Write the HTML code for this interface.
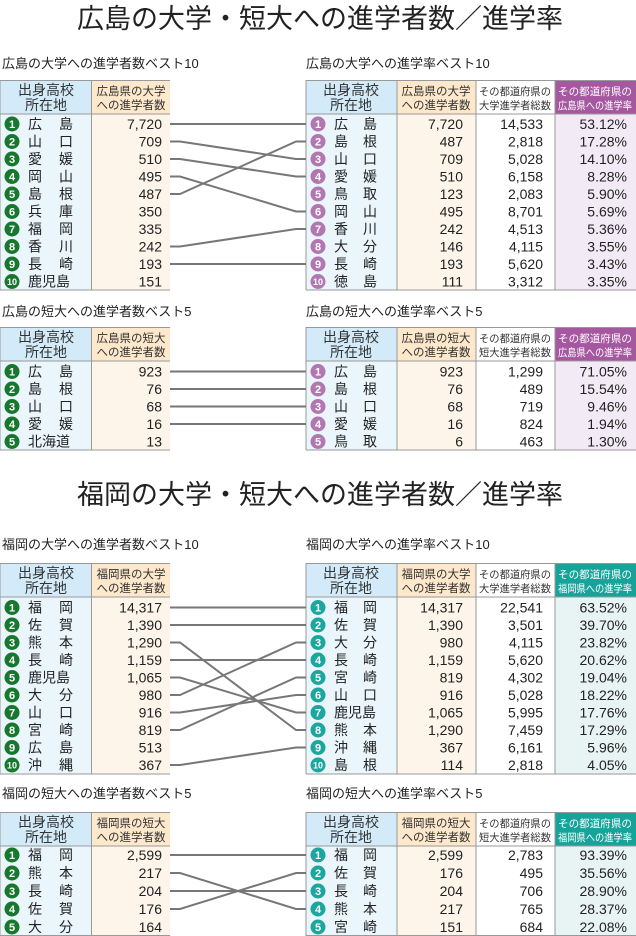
<!DOCTYPE html>
<html><head><meta charset="utf-8"><style>
html,body{margin:0;padding:0;background:#fff;}
svg{display:block;font-family:"Liberation Sans","Noto Sans CJK JP",sans-serif;}
.n{font-size:14px;fill:#222;}
.r{text-anchor:end;}
.h{font-size:11.5px;fill:#333;text-anchor:middle;}
.h1{font-size:14px;fill:#333;text-anchor:middle;}
.h3{font-size:10.5px;fill:#333;text-anchor:middle;}
.w{font-size:10.5px;fill:#fff;text-anchor:middle;}
.st{font-size:13px;fill:#222;}
.t{font-size:27px;fill:#222;text-anchor:middle;}
.c{font-size:11px;fill:#fff;font-weight:bold;text-anchor:middle;}
.ln{stroke:#777;stroke-width:2;fill:none;}
.g{fill:#17772d;} .p{fill:#b276b0;} .tl{fill:#1ba69e;}
</style></head><body>
<svg width="636" height="936" viewBox="0 0 636 936">
<text class="t" x="320" y="28">広島の大学・短大への進学者数／進学率</text>
<text class="t" x="320" y="504">福岡の大学・短大への進学者数／進学率</text>

<text class="st" x="2" y="68">広島の大学への進学者数ベスト10</text>
<text class="st" x="306" y="68">広島の大学への進学率ベスト10</text>
<text class="st" x="2" y="316">広島の短大への進学者数ベスト5</text>
<text class="st" x="306" y="316">広島の短大への進学率ベスト5</text>
<text class="st" x="2" y="549">福岡の大学への進学者数ベスト10</text>
<text class="st" x="306" y="549">福岡の大学への進学率ベスト10</text>
<text class="st" x="2" y="798">福岡の短大への進学者数ベスト5</text>
<text class="st" x="306" y="798">福岡の短大への進学率ベスト5</text>

<g>
<rect x="0" y="80" width="91" height="210" fill="#eaf5fc"/><rect x="0" y="80" width="91" height="34" fill="#d3ebf8"/>
<rect x="92" y="80" width="78" height="210" fill="#fdf5ea"/><rect x="92" y="80" width="78" height="34" fill="#fde8cc"/>
<rect x="306" y="80" width="91" height="210" fill="#eaf5fc"/><rect x="306" y="80" width="91" height="34" fill="#d3ebf8"/>
<rect x="397" y="80" width="79" height="210" fill="#fdf5ea"/><rect x="397" y="80" width="79" height="34" fill="#fde8cc"/>
<rect x="555" y="80" width="81" height="210" fill="#f2ebf5"/><rect x="555" y="80" width="81" height="34" fill="#a5579f"/>
<rect x="0" y="327" width="91" height="123" fill="#eaf5fc"/><rect x="0" y="327" width="91" height="34" fill="#d3ebf8"/>
<rect x="92" y="327" width="78" height="123" fill="#fdf5ea"/><rect x="92" y="327" width="78" height="34" fill="#fde8cc"/>
<rect x="306" y="327" width="91" height="123" fill="#eaf5fc"/><rect x="306" y="327" width="91" height="34" fill="#d3ebf8"/>
<rect x="397" y="327" width="79" height="123" fill="#fdf5ea"/><rect x="397" y="327" width="79" height="34" fill="#fde8cc"/>
<rect x="555" y="327" width="81" height="123" fill="#f2ebf5"/><rect x="555" y="327" width="81" height="34" fill="#a5579f"/>
<rect x="0" y="563" width="91" height="211" fill="#eaf5fc"/><rect x="0" y="563" width="91" height="34" fill="#d3ebf8"/>
<rect x="92" y="563" width="78" height="211" fill="#fdf5ea"/><rect x="92" y="563" width="78" height="34" fill="#fde8cc"/>
<rect x="306" y="563" width="91" height="211" fill="#eaf5fc"/><rect x="306" y="563" width="91" height="34" fill="#d3ebf8"/>
<rect x="397" y="563" width="79" height="211" fill="#fdf5ea"/><rect x="397" y="563" width="79" height="34" fill="#fde8cc"/>
<rect x="555" y="563" width="81" height="211" fill="#e8f3f3"/><rect x="555" y="563" width="81" height="34" fill="#16a39a"/>
<rect x="0" y="812" width="91" height="124" fill="#eaf5fc"/><rect x="0" y="812" width="91" height="34" fill="#d3ebf8"/>
<rect x="92" y="812" width="78" height="124" fill="#fdf5ea"/><rect x="92" y="812" width="78" height="34" fill="#fde8cc"/>
<rect x="306" y="812" width="91" height="124" fill="#eaf5fc"/><rect x="306" y="812" width="91" height="34" fill="#d3ebf8"/>
<rect x="397" y="812" width="79" height="124" fill="#fdf5ea"/><rect x="397" y="812" width="79" height="34" fill="#fde8cc"/>
<rect x="555" y="812" width="81" height="124" fill="#e8f3f3"/><rect x="555" y="812" width="81" height="34" fill="#16a39a"/>
</g>
<g stroke="#999" stroke-width="1">
<path d="M0 80.5H170M0 114H170M0 290H170M91.5 80V290M0 80V290" />
<path d="M306 80.5H636M306 114H636M306 290H636M397 80V290M476 80V290M555 80V290M306 80V290"/>
<path d="M0 327.5H170M0 361H170M0 450H170M91.5 327V450M0 327V450"/>
<path d="M306 327.5H636M306 361H636M306 450H636M397 327V450M476 327V450M555 327V450M306 327V450"/>
<path d="M0 563.5H170M0 597H170M0 774H170M91.5 563V774M0 563V774"/>
<path d="M306 563.5H636M306 597H636M306 774H636M397 563V774M476 563V774M555 563V774M306 563V774"/>
<path d="M0 812.5H170M0 846H170M0 935.5H170M91.5 812V936M0 812V936"/>
<path d="M306 812.5H636M306 846H636M306 935.5H636M397 812V936M476 812V936M555 812V936M306 812V936"/>
</g>

<g>
<text class="h1" x="46" y="95">出身高校</text><text class="h1" x="46" y="110">所在地</text>
<text class="h" x="131" y="95">広島県の大学</text><text class="h" x="131" y="109">への進学者数</text>
<text class="h1" x="351" y="95">出身高校</text><text class="h1" x="351" y="110">所在地</text>
<text class="h" x="436" y="95">広島県の大学</text><text class="h" x="436" y="109">への進学者数</text>
<text class="h3" x="515" y="95" textLength="72" lengthAdjust="spacingAndGlyphs">その都道府県の</text><text class="h3" x="515" y="109" textLength="72" lengthAdjust="spacingAndGlyphs">大学進学者総数</text>
<text class="w" x="595" y="95" textLength="74" lengthAdjust="spacingAndGlyphs">その都道府県の</text><text class="w" x="595" y="109" textLength="74" lengthAdjust="spacingAndGlyphs">広島県への進学率</text>

<text class="h1" x="46" y="342">出身高校</text><text class="h1" x="46" y="357">所在地</text>
<text class="h" x="131" y="342">広島県の短大</text><text class="h" x="131" y="356">への進学者数</text>
<text class="h1" x="351" y="342">出身高校</text><text class="h1" x="351" y="357">所在地</text>
<text class="h" x="436" y="342">広島県の短大</text><text class="h" x="436" y="356">への進学者数</text>
<text class="h3" x="515" y="342" textLength="72" lengthAdjust="spacingAndGlyphs">その都道府県の</text><text class="h3" x="515" y="356" textLength="72" lengthAdjust="spacingAndGlyphs">短大進学者総数</text>
<text class="w" x="595" y="342" textLength="74" lengthAdjust="spacingAndGlyphs">その都道府県の</text><text class="w" x="595" y="356" textLength="74" lengthAdjust="spacingAndGlyphs">広島県への進学率</text>

<text class="h1" x="46" y="578">出身高校</text><text class="h1" x="46" y="593">所在地</text>
<text class="h" x="131" y="578">福岡県の大学</text><text class="h" x="131" y="592">への進学者数</text>
<text class="h1" x="351" y="578">出身高校</text><text class="h1" x="351" y="593">所在地</text>
<text class="h" x="436" y="578">福岡県の大学</text><text class="h" x="436" y="592">への進学者数</text>
<text class="h3" x="515" y="578" textLength="72" lengthAdjust="spacingAndGlyphs">その都道府県の</text><text class="h3" x="515" y="592" textLength="72" lengthAdjust="spacingAndGlyphs">大学進学者総数</text>
<text class="w" x="595" y="578" textLength="74" lengthAdjust="spacingAndGlyphs">その都道府県の</text><text class="w" x="595" y="592" textLength="74" lengthAdjust="spacingAndGlyphs">福岡県への進学率</text>

<text class="h1" x="46" y="827">出身高校</text><text class="h1" x="46" y="842">所在地</text>
<text class="h" x="131" y="827">福岡県の短大</text><text class="h" x="131" y="841">への進学者数</text>
<text class="h1" x="351" y="827">出身高校</text><text class="h1" x="351" y="842">所在地</text>
<text class="h" x="436" y="827">福岡県の短大</text><text class="h" x="436" y="841">への進学者数</text>
<text class="h3" x="515" y="827" textLength="72" lengthAdjust="spacingAndGlyphs">その都道府県の</text><text class="h3" x="515" y="841" textLength="72" lengthAdjust="spacingAndGlyphs">短大進学者総数</text>
<text class="w" x="595" y="827" textLength="74" lengthAdjust="spacingAndGlyphs">その都道府県の</text><text class="w" x="595" y="841" textLength="74" lengthAdjust="spacingAndGlyphs">福岡県への進学率</text>
</g>

<g class="ln">
<path d="M170 124H180L296 124H306"/>
<path d="M170 141.5H180L296 159H306"/>
<path d="M170 159H180L296 176.5H306"/>
<path d="M170 176.5H180L296 211.5H306"/>
<path d="M170 194H180L296 141.5H306"/>
<path d="M170 246.5H180L296 229H306"/>
<path d="M170 264H180L296 264H306"/>
<path d="M170 371.5H306"/><path d="M170 389H306"/><path d="M170 406.5H306"/><path d="M170 424H306"/>
<path d="M170 607.5H306"/>
<path d="M170 625H306"/>
<path d="M170 642.5H180L296 730H306"/>
<path d="M170 660H306"/>
<path d="M170 677.5H180L296 712.5H306"/>
<path d="M170 695H180L296 642.5H306"/>
<path d="M170 712.5H180L296 695H306"/>
<path d="M170 730H180L296 677.5H306"/>
<path d="M170 765H180L296 747.5H306"/>
<path d="M170 855H306"/>
<path d="M170 873H180L296 909H306"/>
<path d="M170 891H306"/>
<path d="M170 909H180L296 873H306"/>
</g>

<g class="n">
<g class="g"><circle cx="12" cy="124" r="7.5"/><circle cx="12" cy="141.5" r="7.5"/><circle cx="12" cy="159" r="7.5"/><circle cx="12" cy="176.5" r="7.5"/><circle cx="12" cy="194" r="7.5"/><circle cx="12" cy="211.5" r="7.5"/><circle cx="12" cy="229" r="7.5"/><circle cx="12" cy="246.5" r="7.5"/><circle cx="12" cy="264" r="7.5"/><circle cx="12" cy="281.5" r="7.5"/></g>
<text class="c" x="12" y="128">1</text><text class="c" x="12" y="145.5">2</text><text class="c" x="12" y="163">3</text><text class="c" x="12" y="180.5">4</text><text class="c" x="12" y="198">5</text><text class="c" x="12" y="215.5">6</text><text class="c" x="12" y="233">7</text><text class="c" x="12" y="250.5">8</text><text class="c" x="12" y="268">9</text><text class="c" x="12" y="285" style="font-size:9px">10</text>
<text x="28" y="129">広</text><text x="59" y="129">島</text><text class="r" x="162" y="129">7,720</text>
<text x="28" y="146.5">山</text><text x="59" y="146.5">口</text><text class="r" x="162" y="146.5">709</text>
<text x="28" y="164">愛</text><text x="59" y="164">媛</text><text class="r" x="162" y="164">510</text>
<text x="28" y="181.5">岡</text><text x="59" y="181.5">山</text><text class="r" x="162" y="181.5">495</text>
<text x="28" y="199">島</text><text x="59" y="199">根</text><text class="r" x="162" y="199">487</text>
<text x="28" y="216.5">兵</text><text x="59" y="216.5">庫</text><text class="r" x="162" y="216.5">350</text>
<text x="28" y="234">福</text><text x="59" y="234">岡</text><text class="r" x="162" y="234">335</text>
<text x="28" y="251.5">香</text><text x="59" y="251.5">川</text><text class="r" x="162" y="251.5">242</text>
<text x="28" y="269">長</text><text x="59" y="269">崎</text><text class="r" x="162" y="269">193</text>
<text x="28" y="286.5">鹿児島</text><text class="r" x="162" y="286.5">151</text>
</g>
<g class="n">
<g class="p"><circle cx="318" cy="124" r="7.5"/><circle cx="318" cy="141.5" r="7.5"/><circle cx="318" cy="159" r="7.5"/><circle cx="318" cy="176.5" r="7.5"/><circle cx="318" cy="194" r="7.5"/><circle cx="318" cy="211.5" r="7.5"/><circle cx="318" cy="229" r="7.5"/><circle cx="318" cy="246.5" r="7.5"/><circle cx="318" cy="264" r="7.5"/><circle cx="318" cy="281.5" r="7.5"/></g>
<text class="c" x="318" y="128">1</text><text class="c" x="318" y="145.5">2</text><text class="c" x="318" y="163">3</text><text class="c" x="318" y="180.5">4</text><text class="c" x="318" y="198">5</text><text class="c" x="318" y="215.5">6</text><text class="c" x="318" y="233">7</text><text class="c" x="318" y="250.5">8</text><text class="c" x="318" y="268">9</text><text class="c" x="318" y="285" style="font-size:9px">10</text>
<text x="334" y="129">広</text><text x="363" y="129">島</text><text class="r" x="463" y="129">7,720</text><text class="r" x="543" y="129">14,533</text><text class="r" x="627" y="129">53.12%</text>
<text x="334" y="146.5">島</text><text x="363" y="146.5">根</text><text class="r" x="463" y="146.5">487</text><text class="r" x="543" y="146.5">2,818</text><text class="r" x="627" y="146.5">17.28%</text>
<text x="334" y="164">山</text><text x="363" y="164">口</text><text class="r" x="463" y="164">709</text><text class="r" x="543" y="164">5,028</text><text class="r" x="627" y="164">14.10%</text>
<text x="334" y="181.5">愛</text><text x="363" y="181.5">媛</text><text class="r" x="463" y="181.5">510</text><text class="r" x="543" y="181.5">6,158</text><text class="r" x="627" y="181.5">8.28%</text>
<text x="334" y="199">鳥</text><text x="363" y="199">取</text><text class="r" x="463" y="199">123</text><text class="r" x="543" y="199">2,083</text><text class="r" x="627" y="199">5.90%</text>
<text x="334" y="216.5">岡</text><text x="363" y="216.5">山</text><text class="r" x="463" y="216.5">495</text><text class="r" x="543" y="216.5">8,701</text><text class="r" x="627" y="216.5">5.69%</text>
<text x="334" y="234">香</text><text x="363" y="234">川</text><text class="r" x="463" y="234">242</text><text class="r" x="543" y="234">4,513</text><text class="r" x="627" y="234">5.36%</text>
<text x="334" y="251.5">大</text><text x="363" y="251.5">分</text><text class="r" x="463" y="251.5">146</text><text class="r" x="543" y="251.5">4,115</text><text class="r" x="627" y="251.5">3.55%</text>
<text x="334" y="269">長</text><text x="363" y="269">崎</text><text class="r" x="463" y="269">193</text><text class="r" x="543" y="269">5,620</text><text class="r" x="627" y="269">3.43%</text>
<text x="334" y="286.5">徳</text><text x="363" y="286.5">島</text><text class="r" x="463" y="286.5">111</text><text class="r" x="543" y="286.5">3,312</text><text class="r" x="627" y="286.5">3.35%</text>
</g>

<g class="n">
<g class="g"><circle cx="12" cy="371.5" r="7.5"/><circle cx="12" cy="389" r="7.5"/><circle cx="12" cy="406.5" r="7.5"/><circle cx="12" cy="424" r="7.5"/><circle cx="12" cy="441.5" r="7.5"/></g>
<text class="c" x="12" y="375.5">1</text><text class="c" x="12" y="393">2</text><text class="c" x="12" y="410.5">3</text><text class="c" x="12" y="428">4</text><text class="c" x="12" y="445.5">5</text>
<text x="28" y="376.5">広</text><text x="59" y="376.5">島</text><text class="r" x="162" y="376.5">923</text>
<text x="28" y="394">島</text><text x="59" y="394">根</text><text class="r" x="162" y="394">76</text>
<text x="28" y="411.5">山</text><text x="59" y="411.5">口</text><text class="r" x="162" y="411.5">68</text>
<text x="28" y="429">愛</text><text x="59" y="429">媛</text><text class="r" x="162" y="429">16</text>
<text x="28" y="446.5">北海道</text><text class="r" x="162" y="446.5">13</text>
</g>
<g class="n">
<g class="p"><circle cx="318" cy="371.5" r="7.5"/><circle cx="318" cy="389" r="7.5"/><circle cx="318" cy="406.5" r="7.5"/><circle cx="318" cy="424" r="7.5"/><circle cx="318" cy="441.5" r="7.5"/></g>
<text class="c" x="318" y="375.5">1</text><text class="c" x="318" y="393">2</text><text class="c" x="318" y="410.5">3</text><text class="c" x="318" y="428">4</text><text class="c" x="318" y="445.5">5</text>
<text x="334" y="376.5">広</text><text x="363" y="376.5">島</text><text class="r" x="463" y="376.5">923</text><text class="r" x="543" y="376.5">1,299</text><text class="r" x="627" y="376.5">71.05%</text>
<text x="334" y="394">島</text><text x="363" y="394">根</text><text class="r" x="463" y="394">76</text><text class="r" x="543" y="394">489</text><text class="r" x="627" y="394">15.54%</text>
<text x="334" y="411.5">山</text><text x="363" y="411.5">口</text><text class="r" x="463" y="411.5">68</text><text class="r" x="543" y="411.5">719</text><text class="r" x="627" y="411.5">9.46%</text>
<text x="334" y="429">愛</text><text x="363" y="429">媛</text><text class="r" x="463" y="429">16</text><text class="r" x="543" y="429">824</text><text class="r" x="627" y="429">1.94%</text>
<text x="334" y="446.5">鳥</text><text x="363" y="446.5">取</text><text class="r" x="463" y="446.5">6</text><text class="r" x="543" y="446.5">463</text><text class="r" x="627" y="446.5">1.30%</text>
</g>

<g class="n">
<g class="g"><circle cx="12" cy="607.5" r="7.5"/><circle cx="12" cy="625" r="7.5"/><circle cx="12" cy="642.5" r="7.5"/><circle cx="12" cy="660" r="7.5"/><circle cx="12" cy="677.5" r="7.5"/><circle cx="12" cy="695" r="7.5"/><circle cx="12" cy="712.5" r="7.5"/><circle cx="12" cy="730" r="7.5"/><circle cx="12" cy="747.5" r="7.5"/><circle cx="12" cy="765" r="7.5"/></g>
<text class="c" x="12" y="611.5">1</text><text class="c" x="12" y="629">2</text><text class="c" x="12" y="646.5">3</text><text class="c" x="12" y="664">4</text><text class="c" x="12" y="681.5">5</text><text class="c" x="12" y="699">6</text><text class="c" x="12" y="716.5">7</text><text class="c" x="12" y="734">8</text><text class="c" x="12" y="751.5">9</text><text class="c" x="12" y="768.5" style="font-size:9px">10</text>
<text x="28" y="612.5">福</text><text x="59" y="612.5">岡</text><text class="r" x="162" y="612.5">14,317</text>
<text x="28" y="630">佐</text><text x="59" y="630">賀</text><text class="r" x="162" y="630">1,390</text>
<text x="28" y="647.5">熊</text><text x="59" y="647.5">本</text><text class="r" x="162" y="647.5">1,290</text>
<text x="28" y="665">長</text><text x="59" y="665">崎</text><text class="r" x="162" y="665">1,159</text>
<text x="28" y="682.5">鹿児島</text><text class="r" x="162" y="682.5">1,065</text>
<text x="28" y="700">大</text><text x="59" y="700">分</text><text class="r" x="162" y="700">980</text>
<text x="28" y="717.5">山</text><text x="59" y="717.5">口</text><text class="r" x="162" y="717.5">916</text>
<text x="28" y="735">宮</text><text x="59" y="735">崎</text><text class="r" x="162" y="735">819</text>
<text x="28" y="752.5">広</text><text x="59" y="752.5">島</text><text class="r" x="162" y="752.5">513</text>
<text x="28" y="770">沖</text><text x="59" y="770">縄</text><text class="r" x="162" y="770">367</text>
</g>
<g class="n">
<g class="tl"><circle cx="318" cy="607.5" r="7.5"/><circle cx="318" cy="625" r="7.5"/><circle cx="318" cy="642.5" r="7.5"/><circle cx="318" cy="660" r="7.5"/><circle cx="318" cy="677.5" r="7.5"/><circle cx="318" cy="695" r="7.5"/><circle cx="318" cy="712.5" r="7.5"/><circle cx="318" cy="730" r="7.5"/><circle cx="318" cy="747.5" r="7.5"/><circle cx="318" cy="765" r="7.5"/></g>
<text class="c" x="318" y="611.5">1</text><text class="c" x="318" y="629">2</text><text class="c" x="318" y="646.5">3</text><text class="c" x="318" y="664">4</text><text class="c" x="318" y="681.5">5</text><text class="c" x="318" y="699">6</text><text class="c" x="318" y="716.5">7</text><text class="c" x="318" y="734">8</text><text class="c" x="318" y="751.5">9</text><text class="c" x="318" y="768.5" style="font-size:9px">10</text>
<text x="334" y="612.5">福</text><text x="363" y="612.5">岡</text><text class="r" x="463" y="612.5">14,317</text><text class="r" x="543" y="612.5">22,541</text><text class="r" x="627" y="612.5">63.52%</text>
<text x="334" y="630">佐</text><text x="363" y="630">賀</text><text class="r" x="463" y="630">1,390</text><text class="r" x="543" y="630">3,501</text><text class="r" x="627" y="630">39.70%</text>
<text x="334" y="647.5">大</text><text x="363" y="647.5">分</text><text class="r" x="463" y="647.5">980</text><text class="r" x="543" y="647.5">4,115</text><text class="r" x="627" y="647.5">23.82%</text>
<text x="334" y="665">長</text><text x="363" y="665">崎</text><text class="r" x="463" y="665">1,159</text><text class="r" x="543" y="665">5,620</text><text class="r" x="627" y="665">20.62%</text>
<text x="334" y="682.5">宮</text><text x="363" y="682.5">崎</text><text class="r" x="463" y="682.5">819</text><text class="r" x="543" y="682.5">4,302</text><text class="r" x="627" y="682.5">19.04%</text>
<text x="334" y="700">山</text><text x="363" y="700">口</text><text class="r" x="463" y="700">916</text><text class="r" x="543" y="700">5,028</text><text class="r" x="627" y="700">18.22%</text>
<text x="334" y="717.5">鹿児島</text><text class="r" x="463" y="717.5">1,065</text><text class="r" x="543" y="717.5">5,995</text><text class="r" x="627" y="717.5">17.76%</text>
<text x="334" y="735">熊</text><text x="363" y="735">本</text><text class="r" x="463" y="735">1,290</text><text class="r" x="543" y="735">7,459</text><text class="r" x="627" y="735">17.29%</text>
<text x="334" y="752.5">沖</text><text x="363" y="752.5">縄</text><text class="r" x="463" y="752.5">367</text><text class="r" x="543" y="752.5">6,161</text><text class="r" x="627" y="752.5">5.96%</text>
<text x="334" y="770">島</text><text x="363" y="770">根</text><text class="r" x="463" y="770">114</text><text class="r" x="543" y="770">2,818</text><text class="r" x="627" y="770">4.05%</text>
</g>

<g class="n">
<g class="g"><circle cx="12" cy="855" r="7.5"/><circle cx="12" cy="873" r="7.5"/><circle cx="12" cy="891" r="7.5"/><circle cx="12" cy="909" r="7.5"/><circle cx="12" cy="927" r="7.5"/></g>
<text class="c" x="12" y="859">1</text><text class="c" x="12" y="877">2</text><text class="c" x="12" y="895">3</text><text class="c" x="12" y="913">4</text><text class="c" x="12" y="931">5</text>
<text x="28" y="860">福</text><text x="59" y="860">岡</text><text class="r" x="162" y="860">2,599</text>
<text x="28" y="878">熊</text><text x="59" y="878">本</text><text class="r" x="162" y="878">217</text>
<text x="28" y="896">長</text><text x="59" y="896">崎</text><text class="r" x="162" y="896">204</text>
<text x="28" y="914">佐</text><text x="59" y="914">賀</text><text class="r" x="162" y="914">176</text>
<text x="28" y="932">大</text><text x="59" y="932">分</text><text class="r" x="162" y="932">164</text>
</g>
<g class="n">
<g class="tl"><circle cx="318" cy="855" r="7.5"/><circle cx="318" cy="873" r="7.5"/><circle cx="318" cy="891" r="7.5"/><circle cx="318" cy="909" r="7.5"/><circle cx="318" cy="927" r="7.5"/></g>
<text class="c" x="318" y="859">1</text><text class="c" x="318" y="877">2</text><text class="c" x="318" y="895">3</text><text class="c" x="318" y="913">4</text><text class="c" x="318" y="931">5</text>
<text x="334" y="860">福</text><text x="363" y="860">岡</text><text class="r" x="463" y="860">2,599</text><text class="r" x="543" y="860">2,783</text><text class="r" x="627" y="860">93.39%</text>
<text x="334" y="878">佐</text><text x="363" y="878">賀</text><text class="r" x="463" y="878">176</text><text class="r" x="543" y="878">495</text><text class="r" x="627" y="878">35.56%</text>
<text x="334" y="896">長</text><text x="363" y="896">崎</text><text class="r" x="463" y="896">204</text><text class="r" x="543" y="896">706</text><text class="r" x="627" y="896">28.90%</text>
<text x="334" y="914">熊</text><text x="363" y="914">本</text><text class="r" x="463" y="914">217</text><text class="r" x="543" y="914">765</text><text class="r" x="627" y="914">28.37%</text>
<text x="334" y="932">宮</text><text x="363" y="932">崎</text><text class="r" x="463" y="932">151</text><text class="r" x="543" y="932">684</text><text class="r" x="627" y="932">22.08%</text>
</g>
</svg>
</body></html>
